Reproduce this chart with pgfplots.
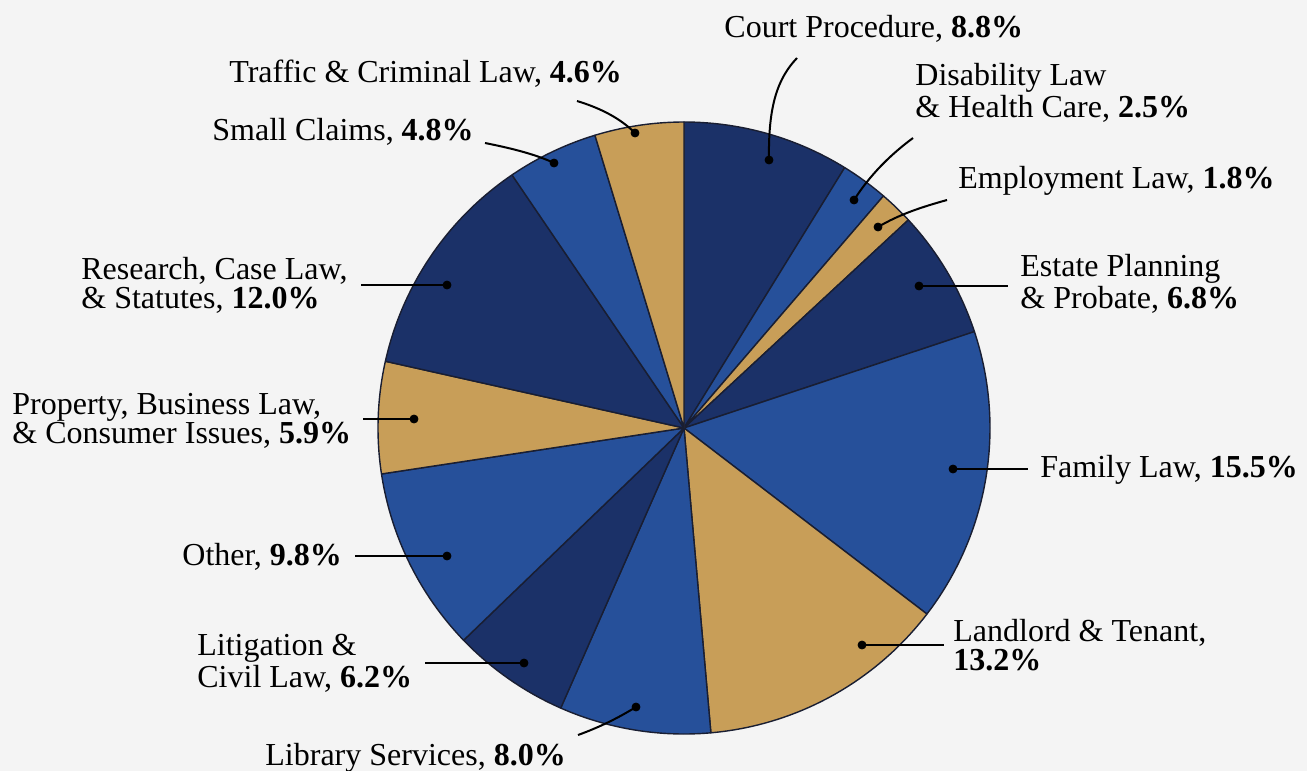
\documentclass[border=0pt]{standalone}
\usepackage{pgfplots}
\pgfplotsset{compat=1.18}
\usepackage{fontspec}
\setmainfont{Liberation Serif}
\definecolor{navy}{RGB}{27,49,104}
\definecolor{midblue}{RGB}{38,80,154}
\definecolor{gold}{RGB}{200,158,88}
\definecolor{edgecol}{RGB}{25,30,50}
\definecolor{bgcol}{RGB}{244,244,244}
% slice: #1 = cumulative start (%), #2 = cumulative end (%), #3 = colour
\newcommand{\slice}[3]{%
  \addplot[fill=#3, draw=edgecol, line width=0.7pt, line join=round, domain=#1:#2, samples=80, variable=\t]
    ({684+306*cos(90-3.6*\t)}, {428-306*sin(90-3.6*\t)}) -- (axis cs:684,428) -- cycle;
}
\newcommand{\lab}[3]{\node[anchor=base west, inner sep=0pt, align=left, font=\fontsize{16}{14.4}\selectfont] at (axis cs:#1,#2) {#3};}
\begin{document}
\begin{tikzpicture}
\begin{axis}[
  x=0.5pt, y=0.5pt, y dir=reverse,
  xmin=0, xmax=1307, ymin=0, ymax=771,
  hide axis, clip=false, scale only axis,
]
\fill[bgcol] (axis cs:0,0) rectangle (axis cs:1307,771);
\coordinate (bl) at (axis cs:0,771);
\coordinate (tr) at (axis cs:1307,0);
% shares (%): Court Procedure 8.8, Disability Law & Health Care 2.5, Employment Law 1.8,
% Estate Planning & Probate 6.8, Family Law 15.5, Landlord & Tenant 13.2, Library Services 8.0,
% Litigation & Civil Law 6.2, Other 9.8, Property/Business/Consumer 5.9, Research 12.0,
% Small Claims 4.8, Traffic & Criminal Law 4.6
\slice{0}{8.8}{navy}
\slice{8.8}{11.3}{midblue}
\slice{11.3}{13.1}{gold}
\slice{13.1}{19.9}{navy}
\slice{19.9}{35.4}{midblue}
\slice{35.4}{48.6}{gold}
\slice{48.6}{56.6}{midblue}
\slice{56.6}{62.8}{navy}
\slice{62.8}{72.6}{midblue}
\slice{72.6}{78.5}{gold}
\slice{78.5}{90.5}{navy}
\slice{90.5}{95.3}{midblue}
\slice{95.3}{100}{gold}
% leader lines
\draw[black, line width=1pt] (axis cs:769,160) .. controls (axis cs:768,105) and (axis cs:778,78) .. (axis cs:797,58);
\draw[black, line width=1pt] (axis cs:854,200) .. controls (axis cs:870,175) and (axis cs:890,155) .. (axis cs:913,138);
\draw[black, line width=1pt] (axis cs:878,227) .. controls (axis cs:900,214) and (axis cs:922,207) .. (axis cs:947,200);
\draw[black, line width=1pt] (axis cs:919,286) -- (axis cs:1008,286);
\draw[black, line width=1pt] (axis cs:953,469) -- (axis cs:1028,469);
\draw[black, line width=1pt] (axis cs:862,645) -- (axis cs:944,645);
\draw[black, line width=1pt] (axis cs:636,707) .. controls (axis cs:618,718) and (axis cs:600,727) .. (axis cs:578,735);
\draw[black, line width=1pt] (axis cs:524,663) -- (axis cs:425,663);
\draw[black, line width=1pt] (axis cs:447,556) -- (axis cs:355,556);
\draw[black, line width=1pt] (axis cs:414,419) -- (axis cs:363,419);
\draw[black, line width=1pt] (axis cs:447,285) -- (axis cs:361,285);
\draw[black, line width=1pt] (axis cs:554,163) .. controls (axis cs:535,154) and (axis cs:510,148) .. (axis cs:485,143);
\draw[black, line width=1pt] (axis cs:635,133) .. controls (axis cs:620,118) and (axis cs:600,108) .. (axis cs:577,101);
\addplot[only marks, mark=*, mark size=2pt, black] coordinates {
  (769,160) (854,200) (878,227) (919,286) (953,469) (862,645) (636,707)
  (524,663) (447,556) (414,419) (447,285) (554,163) (635,133)
};
% labels (anchor = baseline of the last line)
\lab{724}{38}{Court Procedure, \textbf{8.8\%}}
\lab{915}{117}{Disability Law\\\& Health Care, \textbf{2.5\%}}
\lab{958}{188}{Employment Law, \textbf{1.8\%}}
\lab{1020}{308}{Estate Planning\\\& Probate, \textbf{6.8\%}}
\lab{1040}{477}{Family Law, \textbf{15.5\%}}
\lab{953}{670}{Landlord \& Tenant,\\\textbf{13.2\%}}
\lab{265}{765}{Library Services, \textbf{8.0\%}}
\lab{197}{687}{Litigation \&\\Civil Law, \textbf{6.2\%}}
\lab{182}{565}{Other, \textbf{9.8\%}}
\lab{12}{443}{Property, Business Law,\\\& Consumer Issues, \textbf{5.9\%}}
\lab{81}{308}{Research, Case Law,\\\& Statutes, \textbf{12.0\%}}
\lab{212}{140}{Small Claims, \textbf{4.8\%}}
\lab{229}{82}{Traffic \& Criminal Law, \textbf{4.6\%}}
\end{axis}
\pgfresetboundingbox
\path[use as bounding box] (bl) rectangle (tr);
\end{tikzpicture}
\end{document}
